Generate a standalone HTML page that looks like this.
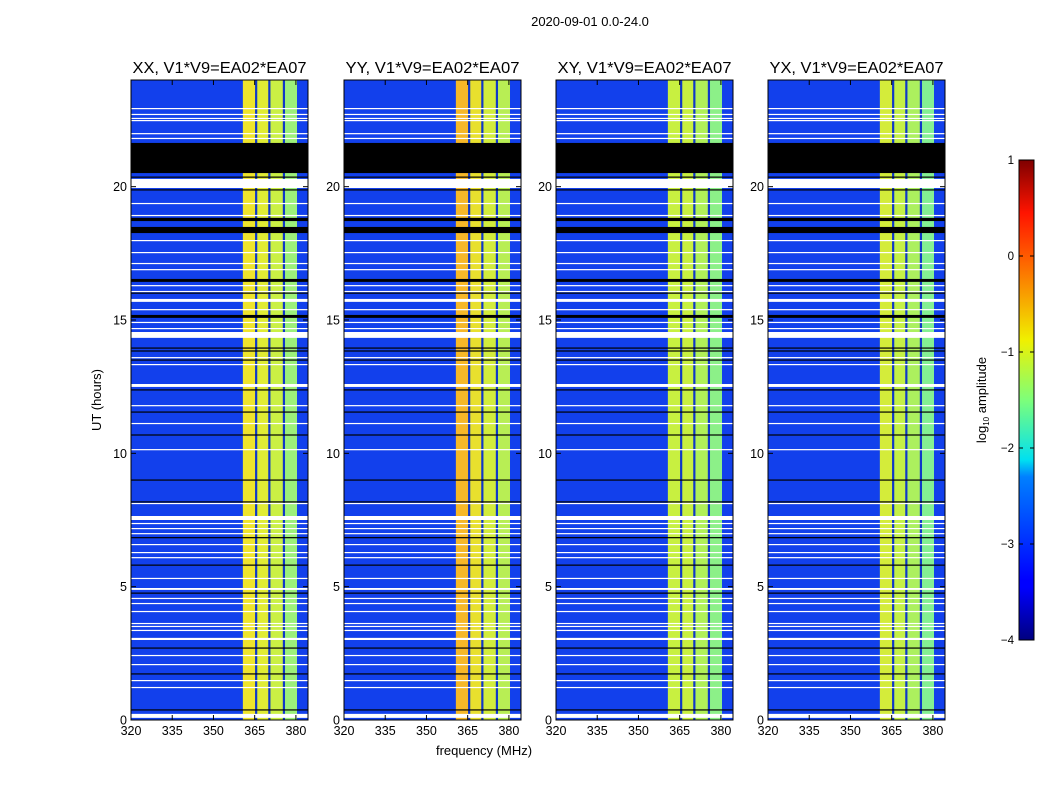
<!DOCTYPE html>
<html><head><meta charset="utf-8">
<style>
body{margin:0;background:#fff;}
svg text{font-family:"Liberation Sans",sans-serif;fill:#000;}
</style></head>
<body>
<svg id="fig" width="1050" height="800" viewBox="0 0 1050 800" xmlns="http://www.w3.org/2000/svg">
<defs>
<linearGradient id="jet" x1="0" y1="1" x2="0" y2="0">
<stop offset="0" stop-color="#00007f"/><stop offset="0.11" stop-color="#0000ff"/>
<stop offset="0.125" stop-color="#0000ff"/><stop offset="0.34" stop-color="#0080ff"/>
<stop offset="0.375" stop-color="#00e0f0"/><stop offset="0.5" stop-color="#7dff7a"/>
<stop offset="0.625" stop-color="#f0f000"/><stop offset="0.8" stop-color="#ff5a00"/>
<stop offset="0.89" stop-color="#ff1400"/><stop offset="1" stop-color="#7f0000"/>
</linearGradient>
</defs>
<text x="590" y="26" font-size="13" text-anchor="middle">2020-09-01 0.0-24.0</text>
<text x="484" y="755" font-size="13" text-anchor="middle">frequency (MHz)</text>
<text x="101" y="400" font-size="13" text-anchor="middle" transform="rotate(-90 101 400)">UT (hours)</text>
<g id="panels"></g>
<g id="cbar"></g>
</svg>
<script>
const panelTitles=['XX, V1*V9=EA02*EA07','YY, V1*V9=EA02*EA07','XY, V1*V9=EA02*EA07','YX, V1*V9=EA02*EA07'];
const xTicks=[320,335,350,365,380];
const yTicks=[0,5,10,15,20];
const bandEdges=[360.7,365.5,370.3,375.6,380.4];
const bandColors=[
 ['#eee42c','#e0ec34','#caf044','#9cf07a'],
 ['#f6b828','#e8e02e','#d2ec3c','#b8ee54'],
 ['#c8f040','#c8f040','#b0f058','#8cf088'],
 ['#d4ec3a','#c4f046','#acf05e','#84f092']];
const whiteFlags=[[22.95,22.91],[22.73,22.69],[22.58,22.54],[22.5,22.46],[22.01,21.97],[21.83,21.79],[20.29,19.95],[19.39,19.35],[18.94,18.9],[18.0,17.96],[17.55,17.51],[17.14,17.1],[16.91,16.87],[16.31,16.27],[16.09,16.05],[15.79,15.68],[15.41,15.37],[14.93,14.89],[14.7,14.66],[14.55,14.33],[13.61,13.57],[13.35,13.31],[12.6,12.49],[11.81,11.77],[11.14,11.1],[10.16,10.12],[8.14,8.1],[7.65,7.5],[7.39,7.35],[7.2,7.16],[7.01,6.97],[6.6,6.56],[6.3,6.26],[6.11,6.07],[5.33,5.29],[4.95,4.88],[4.58,4.54],[4.39,4.35],[4.09,4.05],[3.64,3.6],[3.53,3.49],[3.38,3.34],[3.08,3.0],[2.44,2.4],[2.1,2.06],[1.5,1.46],[1.24,1.2],[0.23,0.08]];
const blackFlags=[[21.64,20.51],[20.38,20.34],[19.9,19.86],[18.83,18.71],[18.49,18.26],[16.54,16.43],[16.03,15.99],[15.19,15.08],[13.97,13.93],[13.86,13.82],[13.52,13.48],[12.4,12.36],[11.57,11.53],[10.71,10.67],[9.02,8.98],[8.2,8.16],[6.86,6.82],[5.83,5.79],[4.78,4.74],[2.72,2.68],[1.75,1.71],[0.4,0.36]];
const cbTicks=[-4,-3,-2,-1,0,1];
const cbTickLabels=['\u22124','\u22123','\u22122','\u22121','0','1'];

const NS='http://www.w3.org/2000/svg';
function mk(tag,attrs,parent){const e=document.createElementNS(NS,tag);for(const k in attrs)e.setAttribute(k,attrs[k]);parent.appendChild(e);return e;}
const panelLefts=[131,344,556,768];
const PW=177, TOP=80, BOT=720;
const X0=320,X1=384.4;
const root=document.getElementById('panels');
panelTitles.forEach((t,p)=>{
 const L=panelLefts[p];
 const xs=v=>L+(v-X0)/(X1-X0)*PW;
 const ys=h=>BOT-h/24*(BOT-TOP);
 const g=mk('g',{},root);
 
 
 const bg=mk('rect',{x:L,y:TOP,width:PW,height:BOT-TOP,fill:'#1240ec'},g);
 
 
 for(let c=0;c<4;c++){
  const x0=xs(bandEdges[c]),x1=xs(bandEdges[c+1]);
  const r=mk('rect',{x:x0,y:TOP,width:x1-x0,height:BOT-TOP,fill:bandColors[p][c]},g);
  
  
  if(c>0){const gl=mk('rect',{x:x0-1,y:TOP,width:2.2,height:BOT-TOP,fill:'#1038c8'},g);
   
   }
 }
 whiteFlags.forEach(f=>{const r=mk('rect',{x:L,y:ys(f[0]),width:PW,height:Math.max(1.2,ys(f[1])-ys(f[0])),fill:'#fff'},g);
  
  });
 blackFlags.forEach(f=>{const r=mk('rect',{x:L,y:ys(f[0]),width:PW,height:Math.max(1.2,ys(f[1])-ys(f[0])),fill:'#000'},g);
  
  });
 const fr=mk('rect',{x:L,y:TOP,width:PW,height:BOT-TOP,fill:'none',stroke:'#000','stroke-width':1},g);
 
 
 const tt=mk('text',{x:L+PW/2,y:73,'font-size':15.5,'text-anchor':'middle',textLength:174,lengthAdjust:'spacingAndGlyphs'},g);tt.textContent=t;
 
 
 xTicks.forEach(v=>{const x=xs(v);
  mk('line',{x1:x,x2:x,y1:BOT,y2:BOT-5,stroke:'#000'},g);
  mk('line',{x1:x,x2:x,y1:TOP,y2:TOP+5,stroke:'#000'},g);
  const tx=mk('text',{x:x,y:BOT+15,'font-size':12.5,'text-anchor':'middle'},g);tx.textContent=v;
  
  });
 yTicks.forEach(v=>{const y=ys(v);
  mk('line',{x1:L,x2:L+5,y1:y,y2:y,stroke:'#000'},g);
  mk('line',{x1:L+PW,x2:L+PW-5,y1:y,y2:y,stroke:'#000'},g);
  const tx=mk('text',{x:L-4,y:y+4.5,'font-size':12.5,'text-anchor':'end'},g);tx.textContent=v;
  
  });
});
const cb=document.getElementById('cbar');
const CBX=1019,CBW=15,CBT=160,CBB=640;
const cys=v=>CBB-(v-cbTicks[0])/(cbTicks[cbTicks.length-1]-cbTicks[0])*(CBB-CBT);
const cr=mk('rect',{x:CBX,y:CBT,width:CBW,height:CBB-CBT,fill:'url(#jet)',stroke:'#000'},cb);


cbTicks.forEach((v,i)=>{const y=cys(v);
 mk('line',{x1:CBX,x2:CBX+4,y1:y,y2:y,stroke:'#000'},cb);
 mk('line',{x1:CBX+CBW,x2:CBX+CBW-4,y1:y,y2:y,stroke:'#000'},cb);
 const tx=mk('text',{x:CBX-5,y:y+4,'font-size':11.5,'text-anchor':'end'},cb);tx.textContent=cbTickLabels[i];
 
 });
const cl=mk('text',{x:986,y:400,'font-size':13,'text-anchor':'middle',transform:'rotate(-90 986 400)'},cb);
cl.innerHTML='log<tspan font-size="8" dy="3">10</tspan><tspan dy="-3"> amplitude</tspan>';


</script>
</body></html>
